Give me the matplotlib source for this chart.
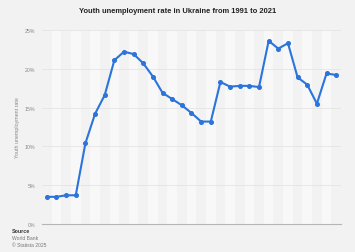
import matplotlib
matplotlib.use("Agg")
import matplotlib.pyplot as plt
import numpy as np

plt.rcParams["font.family"] = ["Liberation Sans", "DejaVu Sans"]

years = list(range(1991, 2022))
rates = [3.5, 3.5, 3.7, 3.7, 10.4, 14.2, 16.6, 21.1, 22.2, 21.9, 20.7, 19.0, 16.9,
         16.1, 15.3, 14.3, 13.2, 13.2, 18.3, 17.7, 17.8, 17.8, 17.65, 23.6, 22.6,
         23.3, 18.9, 17.95, 15.5, 19.4, 19.2]
yticks = [0, 5, 10, 15, 20, 25]
ytick_labels = ["0%", "5%", "10%", "15%", "20%", "25%"]

title = "Youth unemployment rate in Ukraine from 1991 to 2021"
ylabel = "Youth unemployment rate"
source_lines = ["Source", "World Bank", "© Statista 2025"]

bg = "#f2f2f2"
fig = plt.figure(figsize=(3.55, 2.53), dpi=100, facecolor=bg)
ax = fig.add_axes([42/355, 1-225/253, (341-42)/355, (225-31)/253])
ax.set_facecolor(bg)

x = np.arange(len(years))
for i in x:
    if i % 2 == 1:
        ax.axvspan(i - 0.5, i + 0.5, color="#f8f8f8", lw=0, zorder=0)

for t in yticks[1:]:
    ax.axhline(t, color="#e4e4e4", lw=0.6, zorder=1)

ax.plot(x, rates, color="#2a74db", lw=1.5, marker="o", markersize=2.6, zorder=3,
        solid_joinstyle="round")

ax.set_xlim(-0.5, len(years) - 0.5)
ax.set_ylim(0, 25)
ax.set_xticks([])
ax.set_yticks(yticks)
ax.set_yticklabels(ytick_labels, fontsize=3.8, color="#888888")
ax.tick_params(axis="y", length=0, pad=5)
for s in ["top", "right", "left"]:
    ax.spines[s].set_visible(False)
ax.spines["bottom"].set_color("#b5b5b5")
ax.spines["bottom"].set_linewidth(0.8)

ax.set_ylabel(ylabel, fontsize=3.8, color="#888888", labelpad=3)

fig.text(0.5, 1 - 12/253, title, ha="center", va="center", fontsize=5.4,
         fontweight="bold", color="#222222")

fig.text(12/355, 1 - 232/253, source_lines[0], fontsize=3.8, fontweight="bold",
         color="#333333", va="center")
fig.text(12/355, 1 - 239/253, source_lines[1], fontsize=3.6, color="#777777", va="center")
fig.text(12/355, 1 - 246/253, source_lines[2], fontsize=3.6, color="#777777", va="center")

fig.savefig("out.png", dpi=100, facecolor=bg)
